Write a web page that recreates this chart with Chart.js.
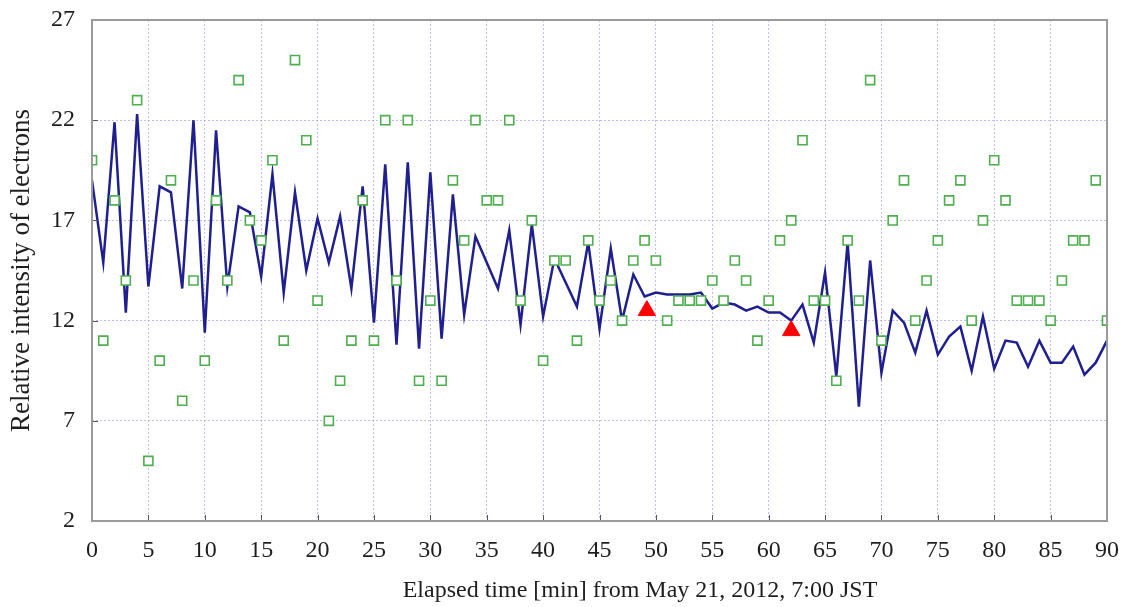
<!DOCTYPE html>
<html>
<head>
<meta charset="utf-8">
<script src="https://cdn.jsdelivr.net/npm/chart.js@4.4.1/dist/chart.umd.min.js"></script>
<style>
  html, body { margin: 0; padding: 0; background: #fff; }
  #wrap { width: 1121px; height: 607px; }
</style>
</head>
<body>
<div id="wrap"><canvas id="chart"></canvas></div>
<script>
// minutes 0..90
const minutes = Array.from({ length: 91 }, (_, i) => i);

// blue line
const lineValues = [
  19.0, 14.9, 21.9, 12.4, 22.3, 13.7, 18.7, 18.4, 13.6, 22.0,
  11.4, 21.5, 13.7, 17.7, 17.4, 14.2, 19.3, 13.4, 18.4, 14.5,
  17.1, 14.9, 17.2, 13.6, 18.7, 11.9, 19.8, 10.8, 19.9, 10.6,
  19.4, 11.1, 18.3, 12.3, 16.2, 14.9, 13.6, 16.5, 11.8, 16.8,
  12.2, 15.1, 13.9, 12.7, 15.9, 11.6, 15.6, 12.0, 14.3, 13.2,
  13.4, 13.3, 13.3, 13.3, 13.4, 12.6, 12.9, 12.8, 12.5, 12.7,
  12.4, 12.4, 12.0, 12.8, 10.9, 14.4, 9.2, 15.9, 7.7, 15.0,
  9.4, 12.5, 11.9, 10.4, 12.5, 10.3, 11.2, 11.7, 9.5, 12.2,
  9.6, 11.0, 10.9, 9.7, 11.0, 9.9, 9.9, 10.7, 9.3, 9.9,
  11.0
];

// green squares
const squareValues = [
  20, 11, 18, 14, 23, 5, 10, 19, 8, 14,
  10, 18, 14, 24, 17, 16, 20, 11, 25, 21,
  13, 7, 9, 11, 18, 11, 22, 14, 22, 9,
  13, 9, 19, 16, 22, 18, 18, 22, 13, 17,
  10, 15, 15, 11, 16, 13, 14, 12, 15, 16,
  15, 12, 13, 13, 13, 14, 13, 15, 14, 11,
  13, 16, 17, 21, 13, 13, 9, 16, 13, 24,
  11, 17, 19, 12, 14, 16, 18, 19, 12, 17,
  20, 18, 13, 13, 13, 12, 14, 16, 16, 19,
  12
];

// red triangles
const triangleX = [49.2, 62];
const triangleY = [12.5, 11.5];

const yTicks = [2, 7, 12, 17, 22, 27];
const xTitle = "Elapsed time [min] from May 21, 2012, 7:00 JST";
const yTitle = "Relative intensity of electrons";

const FONT = "'Liberation Serif', 'Times New Roman', serif";
const TEXT = "#1e1e1e";
const GRID = "rgba(170, 170, 240, 0.75)";

function toPoints(xs, ys) {
  return xs.map((x, i) => ({ x: x, y: ys[i] }));
}

// frame, inner tick marks and x title
const framePlugin = {
  id: "frame",
  afterDraw(chart) {
    const { ctx, chartArea: a, scales } = chart;
    ctx.save();
    ctx.strokeStyle = "#555";
    ctx.lineWidth = 1;
    for (let v = 5; v < 90; v += 5) {
      const px = Math.round(scales.x.getPixelForValue(v)) + 0.5;
      ctx.beginPath();
      ctx.moveTo(px, a.bottom);
      ctx.lineTo(px, a.bottom - 6);
      ctx.stroke();
    }
    yTicks.slice(1, -1).forEach((v) => {
      const py = Math.round(scales.y.getPixelForValue(v)) + 0.5;
      ctx.beginPath();
      ctx.moveTo(a.left, py);
      ctx.lineTo(a.left + 6, py);
      ctx.stroke();
    });
    ctx.strokeStyle = "#9a9a9a";
    ctx.lineWidth = 2;
    ctx.strokeRect(a.left, a.top, a.right - a.left, a.bottom - a.top);

    ctx.fillStyle = TEXT;
    ctx.font = "24px " + FONT;
    ctx.textAlign = "center";
    ctx.textBaseline = "middle";
    ctx.fillText(xTitle, 640, 591);
    ctx.restore();
  },
};

new Chart(document.getElementById("chart"), {
  type: "scatter",
  data: {
    datasets: [
      {
        type: "line",
        label: "line",
        data: toPoints(minutes, lineValues),
        borderColor: "#1f1f8f",
        borderWidth: 2.5,
        pointRadius: 0,
        tension: 0,
        order: 3,
      },
      {
        label: "squares",
        data: toPoints(minutes, squareValues),
        pointStyle: "rect",
        pointRadius: 6.4,
        borderColor: "#4fae4f",
        backgroundColor: "#ffffff",
        borderWidth: 1.6,
        order: 2,
      },
      {
        label: "triangles",
        data: toPoints(triangleX, triangleY),
        pointStyle: "triangle",
        pointRadius: 10,
        borderColor: "#ff0000",
        backgroundColor: "#ff0000",
        borderWidth: 1,
        order: 1,
      },
    ],
  },
  options: {
    responsive: true,
    maintainAspectRatio: false,
    animation: false,
    layout: { autoPadding: false, padding: { top: 20, right: 14, left: 0, bottom: 0 } },
    plugins: {
      legend: { display: false },
      tooltip: { enabled: false },
    },
    scales: {
      x: {
        type: "linear",
        min: 0,
        max: 90,
        afterFit: (s) => {
          s.height = 86;
          s.paddingLeft = 0;
          s.paddingRight = 0;
        },
        ticks: {
          stepSize: 5,
          padding: 15,
          color: TEXT,
          font: { family: FONT, size: 24 },
        },
        grid: { color: GRID, lineWidth: 1, drawTicks: false },
        border: { display: false, dash: [2, 2] },
      },
      y: {
        min: 2,
        max: 27,
        afterFit: (s) => {
          s.width = 92;
          s.paddingTop = 0;
          s.paddingBottom = 0;
        },
        afterBuildTicks: (s) => { s.ticks = yTicks.map((v) => ({ value: v })); },
        ticks: {
          padding: 17,
          color: TEXT,
          font: { family: FONT, size: 24 },
        },
        grid: { color: GRID, lineWidth: 1, drawTicks: false },
        border: { display: false, dash: [2, 2] },
        title: {
          display: true,
          text: yTitle,
          color: TEXT,
          font: { family: FONT, size: 27 },
          padding: { top: 6, bottom: 0 },
        },
      },
    },
  },
  plugins: [framePlugin],
});
</script>
</body>
</html>
